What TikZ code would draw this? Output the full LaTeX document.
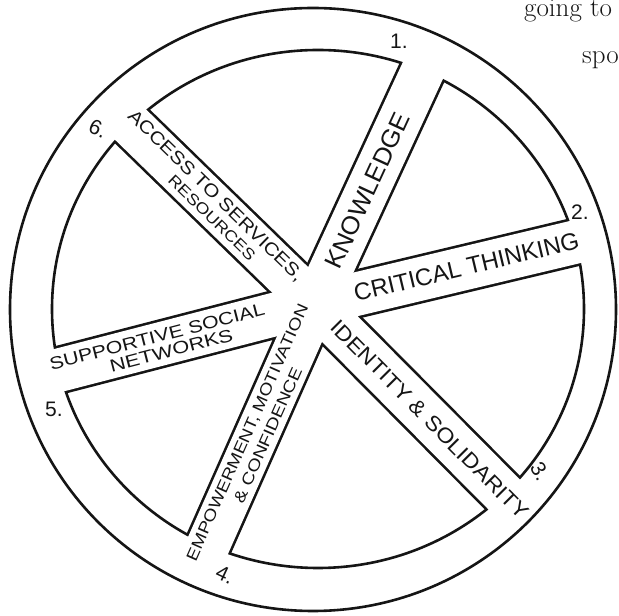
\documentclass[tikz,border=0pt]{standalone}
\usepackage{graphicx}
\usepackage{fontspec}
\newfontfamily\hand{Liberation Sans}
\usepackage{tikz}
\definecolor{Ink}{HTML}{151515}
\newcommand{\wider}[2]{\scalebox{#1}[1]{#2}}
\tikzset{
  rim/.style={draw=Ink,line width=2.6pt},
  spokeedge/.style={draw=Ink,line width=48.6pt},
  spokefill/.style={draw=white,line width=43.4pt},
  lab/.style={inner sep=0pt,text=Ink,font=\hand\fontsize{#1}{#1}\selectfont},
  num/.style={lab=21pt},
  pagetext/.style={inner sep=0pt,anchor=base west,text=Ink,font=\fontsize{27}{30}\selectfont}
}

\begin{document}
\begin{tikzpicture}[x=1pt,y=1pt]
  \useasboundingbox (0,0) rectangle (619,616);
  \coordinate (hub) at (315,312);
  \def\spokeangles{65.2,13.4,-45.2,246.1,194.5,135.8}

  % edges of the spokes, kept inside the rim
  \begin{scope}
    \clip (318,307) ellipse [x radius=266,y radius=259];
    \foreach \a in \spokeangles
      \draw[spokeedge] (hub) -- ++(\a:330);
  \end{scope}
  \draw[rim] (318,307) ellipse [x radius=266,y radius=259];
  % open the spokes into the rim
  \begin{scope}
    \clip (313,306.5) ellipse [x radius=300,y radius=298];
    \foreach \a in \spokeangles
      \draw[spokefill] (hub) -- ++(\a:330);
  \end{scope}
  \draw[rim] (313,306.5) ellipse [x radius=303,y radius=301.5];

  % spoke labels
  \begin{scope}[shift={(hub)},rotate=65.2,transform shape]
    \node[lab=25pt] (know) at (125,0) {\wider{1.04}{KNOWLEDGE}};
  \end{scope}
  \begin{scope}[shift={(hub)},rotate=13.4,transform shape]
    \node[lab=24pt] (crit) at (156,1) {CRITICAL THINKING};
  \end{scope}
  \begin{scope}[shift={(hub)},rotate=-45.2,transform shape]
    \node[lab=21pt] (ident) at (163,0) {\wider{1.1}{IDENTITY \& SOLIDARITY}};
  \end{scope}
  \begin{scope}[shift={(hub)},rotate=66.1,transform shape]
    \node[lab=16pt] (empow1) at (-145,9) {\wider{1.19}{EMPOWERMENT, MOTIVATION}};
    \node[lab=16pt] (empow2) at (-139,-10) {\wider{1.21}{\& CONFIDENCE}};
  \end{scope}
  \begin{scope}[shift={(hub)},rotate=14.5,transform shape]
    \node[lab=17.5pt] (supp1) at (-161,8) {\wider{1.22}{SUPPORTIVE SOCIAL}};
    \node[lab=17.5pt] (supp2) at (-150.7,-9) {\wider{1.25}{NETWORKS}};
  \end{scope}
  \begin{scope}[shift={(hub)},rotate=-44.2,transform shape]
    \node[lab=18pt] (acc1) at (-146.7,8) {\wider{1.16}{ACCESS TO SERVICES,}};
    \node[lab=15.5pt] (acc2) at (-134,-10) {\wider{1.17}{RESOURCES}};
  \end{scope}

  % numbers on the rim
  \node[num] (n1) at (399,575) {1.};
  \node[num] (n2) at (580,404) {2.};
  \node[num,rotate=-60] (n3) at (540,145) {3.};
  \node[num,rotate=-25] (n4) at (225,41) {4.};
  \node[num] (n5) at (54,207) {5.};
  \node[num,rotate=-25] (n6) at (98,487) {6.};

  % page text cut by the frame
  \node[pagetext] (going) at (524,599) {going to};
  \node[pagetext] (spo) at (582,552) {spo};
\end{tikzpicture}
\end{document}
